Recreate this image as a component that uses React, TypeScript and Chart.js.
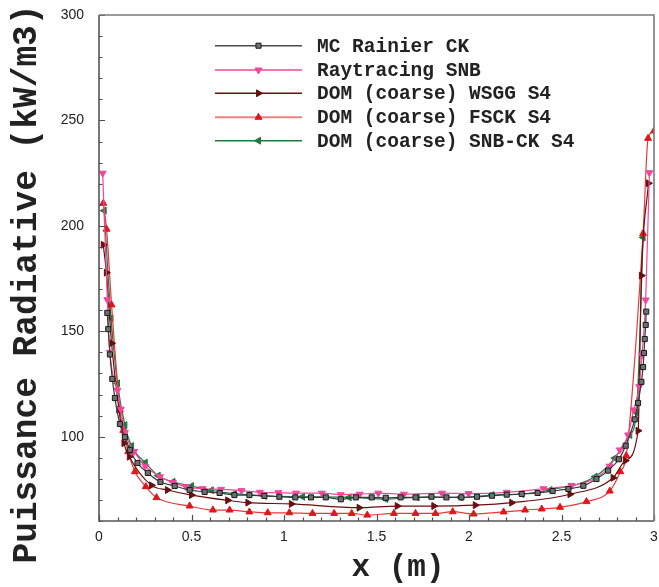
import React, { useEffect, useRef } from 'react';
import { Chart, registerables } from 'chart.js';

Chart.register(...registerables);

// ---- data ----
const seriesNames = [
  'MC Rainier CK',
  'Raytracing SNB',
  'DOM (coarse) WSGG S4',
  'DOM (coarse) FSCK S4',
  'DOM (coarse) SNB-CK S4',
];

const mcX = [0.045, 0.05, 0.059, 0.072, 0.086, 0.113, 0.14, 0.167, 0.208, 0.264, 0.332, 0.409, 0.49, 0.571, 0.652, 0.732, 0.813, 0.894, 0.975, 1.061, 1.146, 1.226, 1.307, 1.388, 1.474, 1.55, 1.63, 1.711, 1.797, 1.878, 1.959, 2.043, 2.124, 2.204, 2.285, 2.371, 2.452, 2.537, 2.618, 2.689, 2.752, 2.81, 2.847, 2.896, 2.914, 2.932, 2.941, 2.946, 2.95, 2.955, 2.958];
const mcY = [158.7, 151, 139, 127.4, 118.3, 106, 99.8, 93.7, 87.5, 82.8, 78.5, 76.6, 74.7, 73.8, 73.3, 72.3, 72.3, 71.9, 71.5, 71.2, 71.2, 71.2, 70.3, 71.2, 71.2, 71.0, 71.2, 71.2, 71.5, 71.2, 71.2, 71.5, 72, 72.5, 72.8, 73.3, 74.2, 75.2, 76.7, 79.9, 83.9, 89.3, 95.7, 108.2, 116, 126, 133, 139.7, 146.3, 153, 159.3];

const snbX = [0.02, 0.045, 0.059, 0.1, 0.118, 0.14, 0.19, 0.25, 0.33, 0.4, 0.47, 0.56, 0.66, 0.77, 0.87, 0.97, 1.065, 1.205, 1.307, 1.409, 1.51, 1.648, 1.854, 1.998, 2.204, 2.403, 2.554, 2.689, 2.76, 2.815, 2.86, 2.89, 2.92, 2.935, 2.955, 2.975];
const snbY = [225, 165, 140, 122, 113, 102, 93, 86, 81, 78.2, 76.3, 75.3, 75, 74.4, 73.6, 73.4, 73.2, 73.2, 72.5, 72.7, 73.2, 72.7, 73.2, 73.0, 73.6, 75.3, 76.8, 80.5, 86, 93.7, 100.8, 112.7, 123.7, 138.7, 164.8, 225.2];

const wsggX = [0.023, 0.04, 0.068, 0.108, 0.135, 0.164, 0.284, 0.37, 0.5, 0.696, 0.805, 1.04, 1.406, 1.612, 1.81, 2.034, 2.231, 2.546, 2.779, 2.845, 2.914, 2.932, 2.97];
const wsggY = [191, 177.8, 144.3, 112.7, 96.9, 90.5, 76.9, 74.7, 72.3, 69.8, 68.7, 68.1, 66.3, 67.1, 67.1, 67.5, 68.7, 72.7, 80.5, 88.6, 102.8, 176.4, 220.2];

const fsckX = [0.023, 0.041, 0.068, 0.113, 0.131, 0.158, 0.194, 0.253, 0.311, 0.49, 0.616, 0.706, 0.813, 0.912, 1.029, 1.154, 1.271, 1.366, 1.45, 1.594, 1.711, 1.819, 1.912, 2.025, 2.187, 2.303, 2.393, 2.492, 2.635, 2.761, 2.818, 2.85, 2.941, 2.968, 3.0];
const fsckY = [210.7, 198.4, 162.5, 112.7, 103, 92.9, 83.4, 76.3, 71.1, 67.1, 65.2, 65.2, 64.3, 63.9, 63.9, 63.6, 63.6, 63.6, 62.8, 63.6, 63.6, 63.6, 64.4, 63.3, 64.3, 65.2, 65.7, 66.5, 69.2, 74.2, 83.4, 91, 196.4, 241.5, 245];

const snbckX = [0.028, 0.065, 0.1, 0.14, 0.176, 0.25, 0.32, 0.4, 0.5, 0.607, 0.732, 0.894, 1.1, 1.352, 1.55, 1.72, 1.953, 2.124, 2.285, 2.438, 2.681, 2.788, 2.869, 2.905, 2.941];
const snbckY = [207.2, 156.2, 125.3, 105.5, 95.6, 87.7, 81.5, 78.6, 76.6, 74.6, 73, 71.9, 71.5, 71.2, 70.4, 71.2, 71.2, 72.3, 72.8, 74.7, 81, 89.8, 100.8, 111.4, 194.5];

const xTickValues = [0, 0.5, 1, 1.5, 2, 2.5, 3];
const yTickValues = [100, 150, 200, 250, 300];
const xTitle = 'x (m)';
const yTitle = 'Puissance Radiative (kW/m3)';

// ---- styles ----
const styles = [
  { line: '#3a3a3a', fill: '#707070', stroke: '#1a1a1a', shape: 'rect', rot: 0, r: 3.6 },
  { line: '#f0479b', fill: '#f0479b', stroke: '#f0479b', shape: 'triangle', rot: 180, r: 4 },
  { line: '#6a0f0f', fill: '#6a0f0f', stroke: '#6a0f0f', shape: 'triangle', rot: 90, r: 4 },
  { line: '#e8393a', fill: '#e2151b', stroke: '#e2151b', shape: 'triangle', rot: 0, r: 4 },
  { line: '#1d7a3e', fill: '#1d7a3e', stroke: '#1d7a3e', shape: 'triangle', rot: 270, r: 4 },
];
const legendLineColors = ['#4a4a4a', '#f0479b', '#6a0f0f', '#ef8080', '#1d7a3e'];

const seriesXs = [mcX, snbX, wsggX, fsckX, snbckX];
const seriesYs = [mcY, snbY, wsggY, fsckY, snbckY];

function drawMarker(ctx: CanvasRenderingContext2D, s: any, x: number, y: number) {
  ctx.save();
  ctx.beginPath();
  if (s.shape === 'rect') {
    const h = s.r * Math.SQRT1_2;
    ctx.rect(x - h, y - h, 2 * h, 2 * h);
  } else {
    let rad = (s.rot * Math.PI) / 180;
    ctx.moveTo(x + Math.sin(rad) * s.r, y - Math.cos(rad) * s.r);
    rad += (2 * Math.PI) / 3;
    ctx.lineTo(x + Math.sin(rad) * s.r, y - Math.cos(rad) * s.r);
    rad += (2 * Math.PI) / 3;
    ctx.lineTo(x + Math.sin(rad) * s.r, y - Math.cos(rad) * s.r);
    ctx.closePath();
  }
  ctx.fillStyle = s.fill;
  ctx.fill();
  ctx.lineWidth = 1;
  ctx.strokeStyle = s.stroke;
  ctx.stroke();
  ctx.restore();
}

const framePlugin = {
  id: 'frameTicks',
  afterDatasetsDraw(chart: any) {
    const { ctx, chartArea, scales } = chart;
    const { left, right, top, bottom } = chartArea;
    const xs = scales.x;
    const ys = scales.y;
    ctx.save();
    ctx.strokeStyle = '#4d4d4d';
    ctx.lineWidth = 1.2;
    // minor & major ticks, inward
    ctx.beginPath();
    for (let i = 0; i <= 30; i++) {
      const v = i / 10;
      const px = Math.round(xs.getPixelForValue(v)) + 0.5;
      const len = i % 5 === 0 ? 6 : 3.5;
      ctx.moveTo(px, bottom);
      ctx.lineTo(px, bottom - len);
    }
    for (let v = 60; v <= 300; v += 10) {
      const py = Math.round(ys.getPixelForValue(v)) + 0.5;
      const len = v % 50 === 0 ? 6 : 3.5;
      ctx.moveTo(left, py);
      ctx.lineTo(left + len, py);
    }
    ctx.stroke();
    // frame
    ctx.lineWidth = 1.6;
    ctx.strokeStyle = '#555555';
    ctx.beginPath();
    ctx.moveTo(left, top);
    ctx.lineTo(left, bottom);
    ctx.lineTo(right, bottom);
    ctx.stroke();
    ctx.strokeStyle = '#7a7a7a';
    ctx.beginPath();
    ctx.moveTo(left, top);
    ctx.lineTo(right, top);
    ctx.lineTo(right, bottom);
    ctx.stroke();

    // axis titles
    ctx.fillStyle = '#222222';
    ctx.font = 'bold 31px "Liberation Mono", "DejaVu Sans Mono", monospace';
    ctx.textAlign = 'center';
    ctx.textBaseline = 'middle';
    ctx.fillText(xTitle, 398, 568);
    ctx.save();
    ctx.translate(27, 284);
    ctx.rotate(-Math.PI / 2);
    ctx.font = 'bold 34.5px "Liberation Mono", "DejaVu Sans Mono", monospace';
    ctx.fillText(yTitle, 0, 0);
    ctx.restore();

    // legend
    const rows = [45.7, 70, 93.3, 117.3, 140.7];
    ctx.font = 'bold 19.5px "Liberation Mono", "DejaVu Sans Mono", monospace';
    ctx.textAlign = 'left';
    ctx.textBaseline = 'middle';
    seriesNames.forEach((name, i) => {
      const y = rows[i];
      ctx.strokeStyle = legendLineColors[i];
      ctx.lineWidth = i === 3 ? 2 : 1.4;
      ctx.beginPath();
      ctx.moveTo(215, y);
      ctx.lineTo(302, y);
      ctx.stroke();
      drawMarker(ctx, styles[i], 258.5, y);
      ctx.fillStyle = '#222222';
      ctx.fillText(name, 317, y + 1);
    });
    ctx.restore();
  },
};

export default function App() {
  const ref = useRef<HTMLCanvasElement | null>(null);
  useEffect(() => {
    if (!ref.current) return;
    const datasets = seriesNames.map((name, i) => ({
      label: name,
      data: seriesXs[i].map((x, j) => ({ x, y: seriesYs[i][j] })),
      borderColor: styles[i].line,
      backgroundColor: styles[i].fill,
      pointBorderColor: styles[i].stroke,
      pointBackgroundColor: styles[i].fill,
      pointStyle: styles[i].shape,
      pointRotation: styles[i].rot,
      pointRadius: styles[i].r,
      pointBorderWidth: 1,
      borderWidth: 1.2,
      cubicInterpolationMode: 'monotone' as const,
      fill: false,
    }));
    const chart = new Chart(ref.current, {
      type: 'line',
      data: { datasets },
      plugins: [framePlugin],
      options: {
        animation: false,
        responsive: false,
        devicePixelRatio: 1,
        layout: { padding: { left: 0, top: 15, right: 3, bottom: 0 } },
        plugins: { legend: { display: false }, tooltip: { enabled: false } },
        scales: {
          x: {
            type: 'linear',
            min: 0,
            max: 3,
            grid: { display: false, drawTicks: false },
            border: { display: false },
            afterBuildTicks: (s: any) => {
              s.ticks = xTickValues.map((v) => ({ value: v }));
            },
            afterFit: (s: any) => {
              s.height = 66;
              s.paddingLeft = 0;
              s.paddingRight = 0;
            },
            ticks: {
              padding: 8,
              maxRotation: 0,
              autoSkip: false,
              color: '#222222',
              font: { family: '"Liberation Sans", Arial, sans-serif', size: 14 },
              callback: (v: any) => String(v),
            },
          },
          y: {
            type: 'linear',
            min: 60,
            max: 300,
            grid: { display: false, drawTicks: false },
            border: { display: false },
            afterBuildTicks: (s: any) => {
              s.ticks = yTickValues.map((v) => ({ value: v }));
            },
            afterFit: (s: any) => {
              s.width = 99;
              s.paddingTop = 0;
              s.paddingBottom = 0;
            },
            ticks: {
              padding: 15,
              autoSkip: false,
              color: '#222222',
              font: { family: '"Liberation Sans", Arial, sans-serif', size: 14 },
              callback: (v: any) => String(v),
            },
          },
        },
      } as any,
    });
    return () => chart.destroy();
  }, []);
  return (
    <div style={{ position: 'fixed', left: 0, top: 0, width: 659, height: 587, background: '#fff' }}>
      <canvas ref={ref} width={659} height={587} style={{ width: 659, height: 587 }} />
    </div>
  );
}
